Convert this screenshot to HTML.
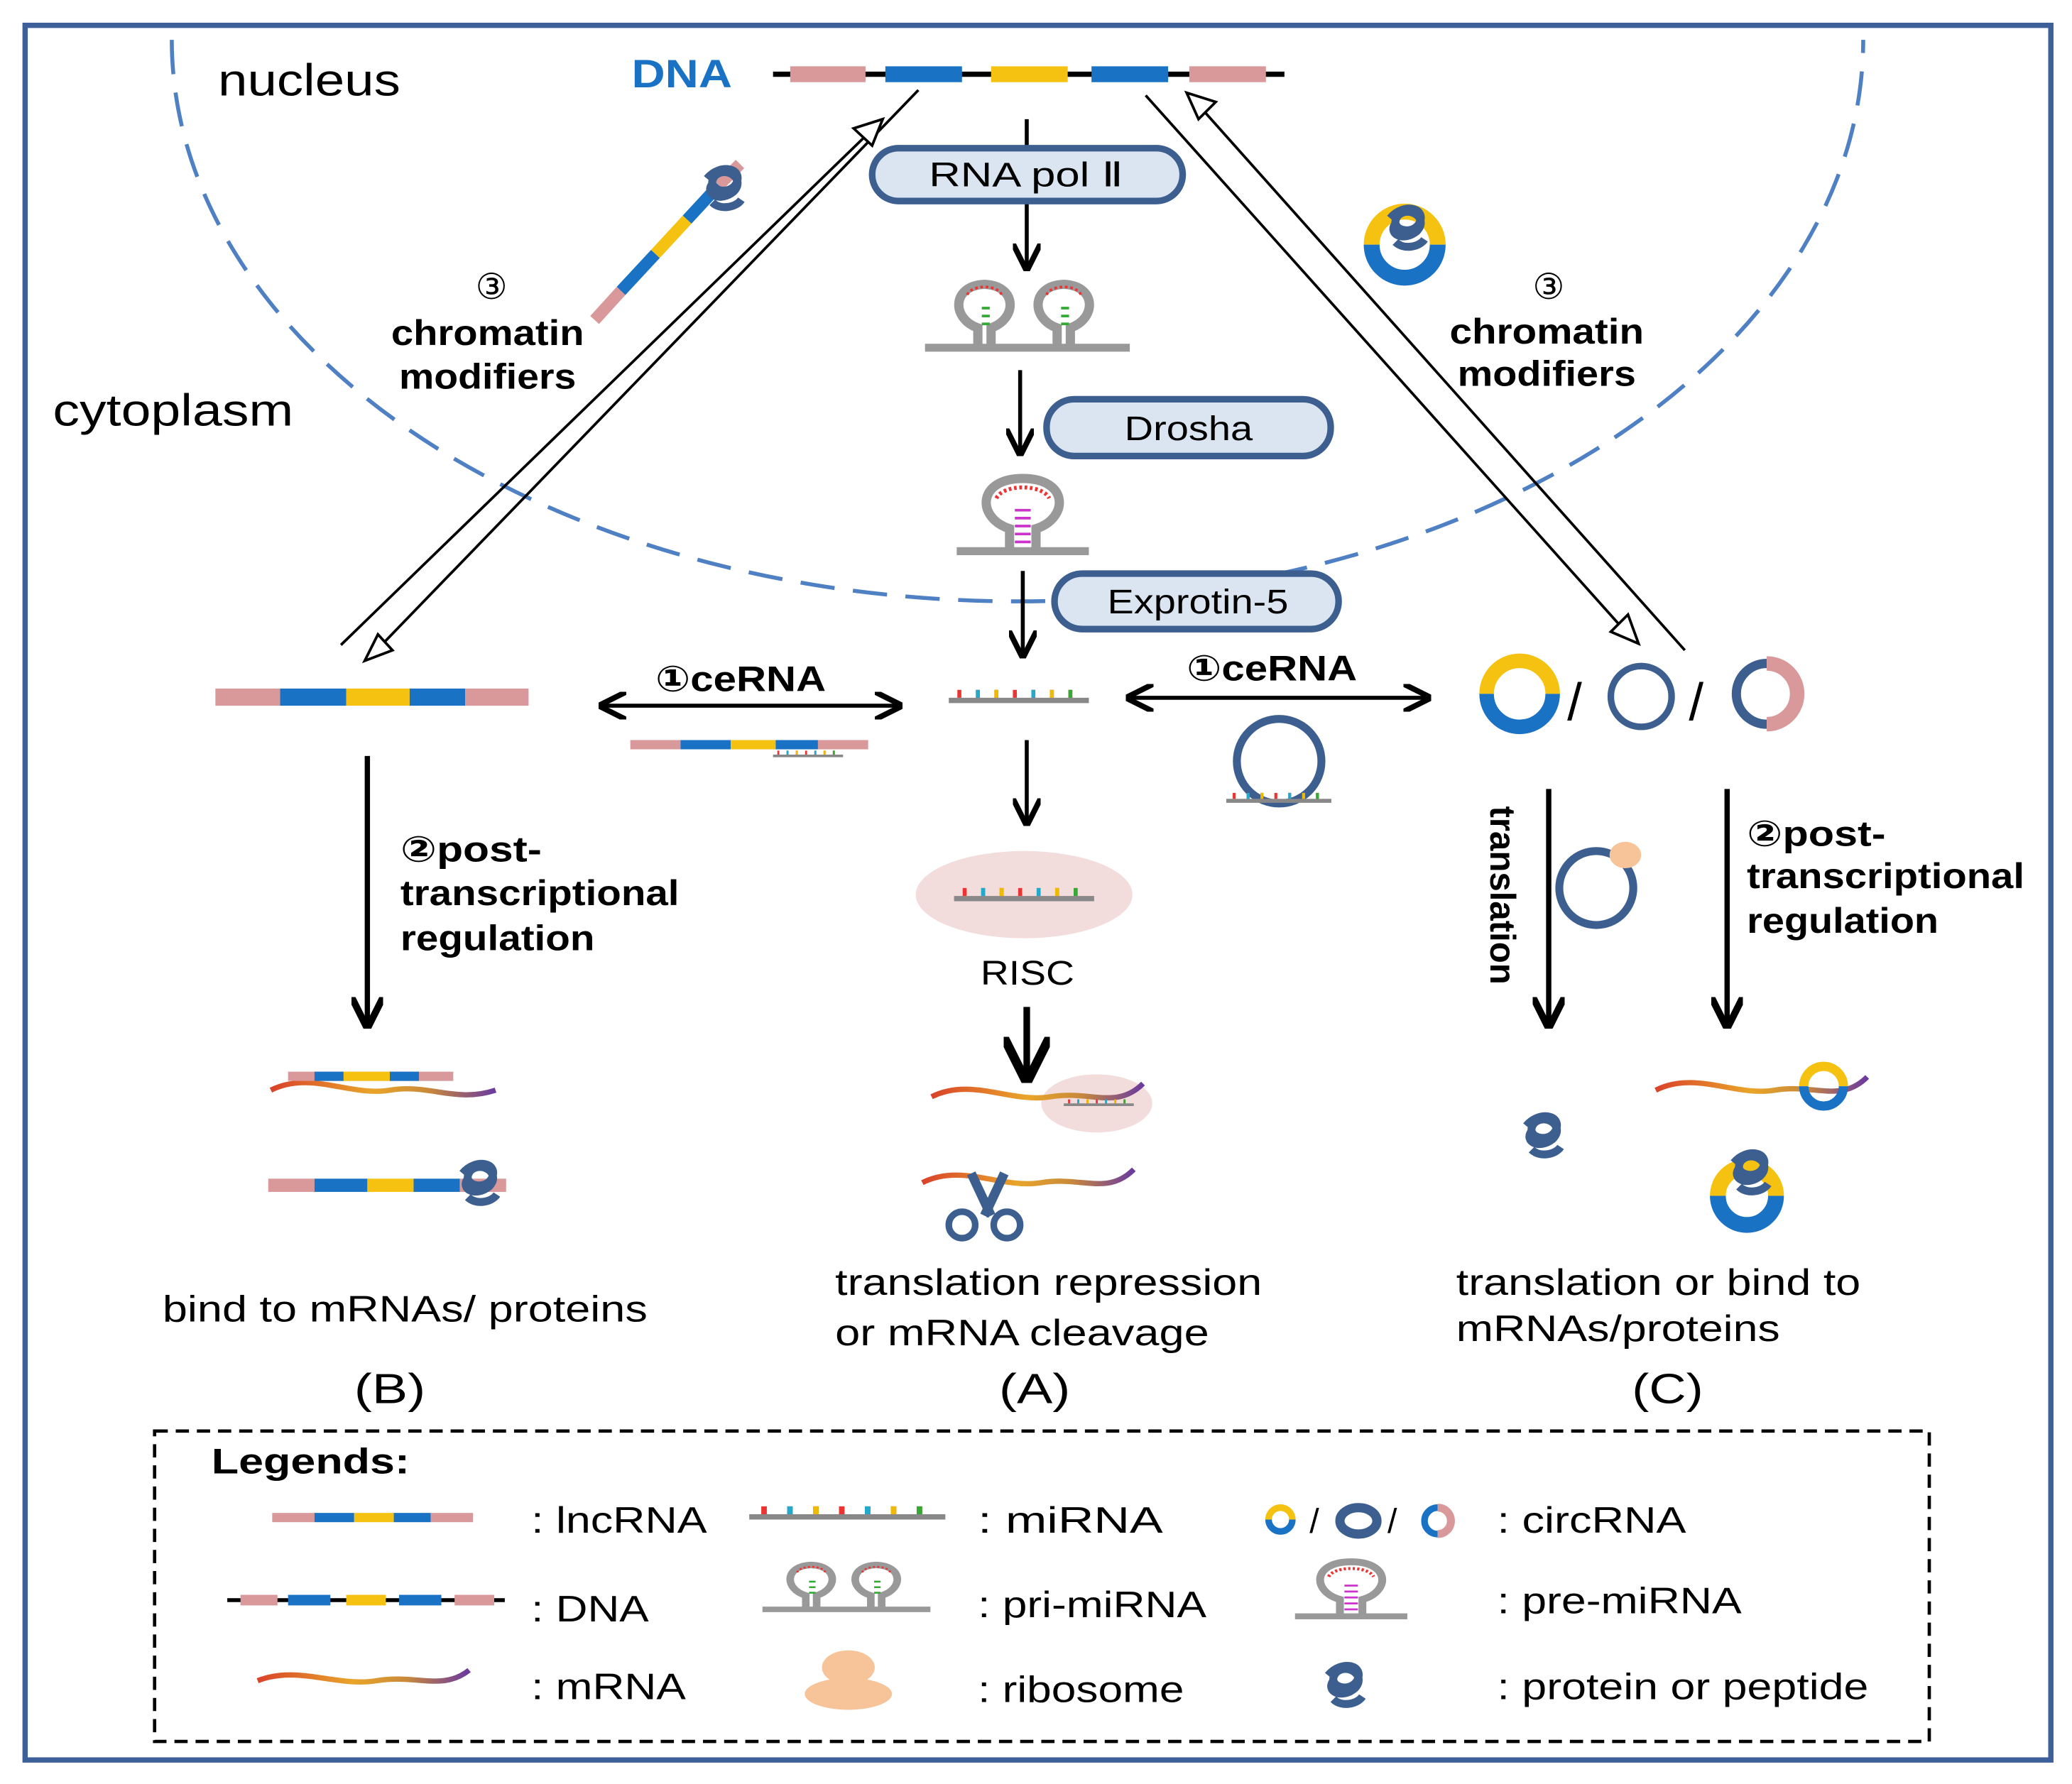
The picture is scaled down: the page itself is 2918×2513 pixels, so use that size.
<!DOCTYPE html>
<html><head><meta charset="utf-8"><style>
html,body{margin:0;padding:0;background:#fff}
svg{display:block}
text{font-family:"Liberation Sans","DejaVu Sans",sans-serif}
</style></head><body>
<svg width="2918" height="2513" viewBox="0 0 1568 1350" xmlns="http://www.w3.org/2000/svg">
<defs>
<linearGradient id="mr" x1="0" x2="1"><stop offset="0" stop-color="#d9432a"/><stop offset="0.45" stop-color="#e9a52a"/><stop offset="0.7" stop-color="#c98a3a"/><stop offset="1" stop-color="#6a3aa0"/></linearGradient>
<marker id="ah" viewBox="0 0 10 10" refX="9" refY="5" markerWidth="7" markerHeight="7" orient="auto-start-reverse"><path d="M0,0 L10,5 L0,10" fill="none" stroke="#000" stroke-width="2"/></marker>
<marker id="ahb" viewBox="0 0 10 10" refX="9" refY="5" markerWidth="6" markerHeight="6" orient="auto-start-reverse"><path d="M0,0 L10,5 L0,10" fill="none" stroke="#000" stroke-width="2.2"/></marker>
<g id="pri"><path d="M0,50 H155" stroke="#999" stroke-width="6"/>
<path d="M40,50 V35 C20,28 20,3 45,2 C70,3 70,28 50,35 V50" fill="none" stroke="#999" stroke-width="7"/>
<path d="M100,50 V35 C80,28 80,3 105,2 C130,3 130,28 110,35 V50" fill="none" stroke="#999" stroke-width="7"/>
<path d="M32,10 C35,2 55,2 58,10 M92,10 C95,2 115,2 118,10" fill="none" stroke="#e33" stroke-width="2" stroke-dasharray="2 2"/>
<path d="M43,20 h6 M43,26 h6 M43,32 h6 M103,20 h6 M103,26 h6 M103,32 h6" stroke="#3a3" stroke-width="2"/></g>
<g id="pre"><path d="M0,55 H100" stroke="#999" stroke-width="6"/>
<path d="M40,55 V38 C15,30 15,0 50,0 C85,0 85,30 60,38 V55" fill="none" stroke="#999" stroke-width="7"/>
<path d="M30,15 C35,4 65,4 70,15" fill="none" stroke="#e33" stroke-width="3" stroke-dasharray="2 2"/>
<path d="M44,24 h12 M44,30 h12 M44,36 h12 M44,42 h12 M44,48 h12" stroke="#c3c" stroke-width="2"/></g>
<g id="mi"><path d="M0,8 H106" stroke="#888" stroke-width="4"/>
<path d="M8,0v6 M22,0v6 M36,0v6 M50,0v6 M64,0v6 M78,0v6 M92,0v6" stroke-width="3" stroke="#e33"/>
<path d="M22,0v6 M64,0v6" stroke="#2ac" stroke-width="3"/><path d="M36,0v6 M78,0v6" stroke="#eb0" stroke-width="3"/><path d="M92,0v6" stroke="#3a3" stroke-width="3"/></g>
<g id="prot"><path d="M0,0 c10,-12 28,-8 22,4 c-6,10 -24,4 -16,-6 c8,-8 24,2 14,12 c-10,8 -22,2 -16,-6 M4,18 c6,6 18,4 22,-2" fill="none" stroke="#3d5f8f" stroke-width="6"/></g>
</defs>
<rect x="19" y="19" width="1533" height="1313" fill="none" stroke="#3d5f9a" stroke-width="4"/>
<path d="M130,30 A640,425 0 0 0 1410,30" fill="none" stroke="#4f80c4" stroke-width="3" stroke-dasharray="26 14"/>
<text x="165" y="72" font-size="34" textLength="138" lengthAdjust="spacingAndGlyphs">nucleus</text>
<text x="40" y="322" font-size="34" textLength="182" lengthAdjust="spacingAndGlyphs">cytoplasm</text>
<text x="478" y="66" font-size="30" font-weight="bold" fill="#1a72c4" textLength="76" lengthAdjust="spacingAndGlyphs">DNA</text>
<path d="M585,56 H972" stroke="#000" stroke-width="4"/>
<rect x="598" y="50" width="57" height="12" fill="#d9989a"/><rect x="670" y="50" width="58" height="12" fill="#1a72c4"/><rect x="750" y="50" width="58" height="12" fill="#f5c211"/><rect x="826" y="50" width="58" height="12" fill="#1a72c4"/><rect x="900" y="50" width="58" height="12" fill="#d9989a"/>
<g stroke="#000" stroke-width="3" marker-end="url(#ah)">
<path d="M777,90 V203"/><path d="M772,280 V343"/><path d="M774,432 V496"/><path d="M777,560 V623"/></g>
<path d="M777,762 V816" stroke="#000" stroke-width="5" marker-end="url(#ah)"/>
<g fill="#dbe5f1" stroke="#3d5f8f" stroke-width="5">
<rect x="660" y="112" width="235" height="40" rx="20"/><rect x="792" y="302" width="215" height="43" rx="21"/><rect x="798" y="434" width="215" height="42" rx="21"/></g>
<g font-size="26" lengthAdjust="spacingAndGlyphs"><text x="703" y="141" textLength="147" lengthAdjust="spacingAndGlyphs">RNA pol Ⅱ</text><text x="851" y="333" textLength="97" lengthAdjust="spacingAndGlyphs">Drosha</text><text x="838" y="464" textLength="137" lengthAdjust="spacingAndGlyphs">Exprotin-5</text></g>
<use href="#pri" x="700" y="213"/>
<use href="#pre" x="724" y="362"/>
<g stroke="#000" stroke-width="2" fill="none">
<path d="M258,488 L662,96"/><path d="M695,68 L283,494"/>
<path d="M867,72 L1232,480"/><path d="M1275,492 L904,76"/></g>
<g fill="#fff" stroke="#000" stroke-width="2">
<path d="M668,90 L646,97 L660,110 Z"/><path d="M276,500 L286,480 L297,492 Z"/>
<path d="M1240,487 L1219,478 L1232,465 Z"/><path d="M898,70 L920,77 L907,90 Z"/></g>
<g stroke-width="9"><path d="M450,242 L470,220" stroke="#d9989a"/><path d="M470,220 L496,192" stroke="#1a72c4"/><path d="M496,192 L520,166" stroke="#f5c211"/><path d="M520,166 L544,140" stroke="#1a72c4"/><path d="M544,140 L560,124" stroke="#d9989a"/></g>
<use href="#prot" x="535" y="135"/>
<path d="M1063,185 m-25,0 a25,25 0 0 1 50,0" fill="none" stroke="#f5c211" stroke-width="12"/>
<path d="M1063,185 m-25,0 a25,25 0 0 0 50,0" fill="none" stroke="#1a72c4" stroke-width="12"/>
<use href="#prot" x="1052" y="165"/>
<g font-size="27" font-weight="bold">
<text x="372" y="226" font-weight="normal" text-anchor="middle">③</text><text x="296" y="261" textLength="146" lengthAdjust="spacingAndGlyphs">chromatin</text><text x="302" y="294" textLength="134" lengthAdjust="spacingAndGlyphs">modifiers</text>
<text x="1172" y="226" font-weight="normal" text-anchor="middle">③</text><text x="1097" y="260" textLength="147" lengthAdjust="spacingAndGlyphs">chromatin</text><text x="1103" y="292" textLength="135" lengthAdjust="spacingAndGlyphs">modifiers</text>
<text x="496" y="523" textLength="129" lengthAdjust="spacingAndGlyphs">①ceRNA</text><text x="898" y="515" textLength="129" lengthAdjust="spacingAndGlyphs">①ceRNA</text></g>
<rect x="163" y="521" width="49" height="13" fill="#d9989a"/><rect x="212" y="521" width="50" height="13" fill="#1a72c4"/><rect x="262" y="521" width="48" height="13" fill="#f5c211"/><rect x="310" y="521" width="42" height="13" fill="#1a72c4"/><rect x="352" y="521" width="48" height="13" fill="#d9989a"/>
<g stroke="#000" stroke-width="3" marker-end="url(#ah)" marker-start="url(#ah)"><path d="M455,534 H681"/><path d="M854,528 H1081"/></g>
<rect x="477" y="560" width="38" height="7" fill="#d9989a"/><rect x="515" y="560" width="38" height="7" fill="#1a72c4"/><rect x="553" y="560" width="34" height="7" fill="#f5c211"/><rect x="587" y="560" width="32" height="7" fill="#1a72c4"/><rect x="619" y="560" width="38" height="7" fill="#d9989a"/>
<g transform="translate(585,568) scale(0.5)"><use href="#mi"/></g>
<use href="#mi" x="718" y="522"/>
<circle cx="968" cy="576" r="32" fill="none" stroke="#3d5f8f" stroke-width="6"/>
<g transform="translate(928,600) scale(0.75)"><use href="#mi"/></g>
<path d="M1125,525 a25,25 0 0 1 50,0" fill="none" stroke="#f5c211" stroke-width="11"/><path d="M1125,525 a25,25 0 0 0 50,0" fill="none" stroke="#1a72c4" stroke-width="11"/>
<text x="1186" y="545" font-size="40">/</text>
<circle cx="1242" cy="527" r="23" fill="none" stroke="#3d5f8f" stroke-width="5"/>
<text x="1278" y="545" font-size="40">/</text>
<path d="M1337,502 a23,23 0 0 0 0,46" fill="none" stroke="#3d5f8f" stroke-width="7"/><path d="M1337,502 a23,23 0 0 1 0,46" fill="none" stroke="#d9989a" stroke-width="11"/>
<ellipse cx="775" cy="677" rx="82" ry="33" fill="#f3dcdc"/>
<use href="#mi" x="722" y="672"/>
<text x="742" y="745" font-size="26" textLength="71" lengthAdjust="spacingAndGlyphs">RISC</text>
<g stroke="#000" stroke-width="4" marker-end="url(#ahb)"><path d="M278,572 V776"/><path d="M1172,597 V776"/><path d="M1307,597 V776"/></g>
<g font-size="27" font-weight="bold">
<text x="303" y="652" textLength="107" lengthAdjust="spacingAndGlyphs">②post-</text><text x="303" y="685" textLength="211" lengthAdjust="spacingAndGlyphs">transcriptional</text><text x="303" y="719" textLength="147" lengthAdjust="spacingAndGlyphs">regulation</text>
<text x="1322" y="640" textLength="105" lengthAdjust="spacingAndGlyphs">②post-</text><text x="1322" y="672" textLength="210" lengthAdjust="spacingAndGlyphs">transcriptional</text><text x="1322" y="706" textLength="145" lengthAdjust="spacingAndGlyphs">regulation</text>
<text transform="translate(1128,610) rotate(90)" textLength="135" lengthAdjust="spacingAndGlyphs">translation</text></g>
<circle cx="1208" cy="672" r="28" fill="none" stroke="#3d5f8f" stroke-width="6"/>
<ellipse cx="1230" cy="647" rx="12" ry="10" fill="#f7c49a"/>
<path d="M205,825 c30,-15 60,5 90,0 c30,-5 50,10 80,0" fill="none" stroke="url(#mr)" stroke-width="4"/>
<rect x="218" y="811" width="125" height="7" fill="#d9989a"/><rect x="238" y="811" width="22" height="7" fill="#1a72c4"/><rect x="260" y="811" width="35" height="7" fill="#f5c211"/><rect x="295" y="811" width="22" height="7" fill="#1a72c4"/>
<rect x="203" y="892" width="35" height="10" fill="#d9989a"/><rect x="238" y="892" width="40" height="10" fill="#1a72c4"/><rect x="278" y="892" width="35" height="10" fill="#f5c211"/><rect x="313" y="892" width="35" height="10" fill="#1a72c4"/><rect x="348" y="892" width="35" height="10" fill="#d9989a"/>
<use href="#prot" x="350" y="888"/>
<ellipse cx="830" cy="835" rx="42" ry="22" fill="#f3dcdc"/>
<path d="M705,830 c30,-15 60,5 90,0 c30,-5 50,10 70,-10" fill="none" stroke="url(#mr)" stroke-width="4"/>
<g transform="translate(805,832) scale(0.5)"><use href="#mi"/></g>
<path d="M698,895 c30,-15 60,5 90,0 c30,-5 50,10 70,-10" fill="none" stroke="url(#mr)" stroke-width="4"/>
<path d="M735,888 L750,920 M760,888 L745,920" stroke="#3d5f8f" stroke-width="7"/>
<circle cx="728" cy="927" r="10" fill="none" stroke="#3d5f8f" stroke-width="5"/><circle cx="762" cy="927" r="10" fill="none" stroke="#3d5f8f" stroke-width="5"/>
<use href="#prot" x="1155" y="852"/>
<path d="M1253,825 c30,-15 60,5 90,0 c30,-5 50,10 70,-10" fill="none" stroke="url(#mr)" stroke-width="4"/>
<path d="M1365,822 a15,15 0 0 1 30,0" fill="none" stroke="#f5c211" stroke-width="7"/><path d="M1365,822 a15,15 0 0 0 30,0" fill="none" stroke="#1a72c4" stroke-width="7"/>
<path d="M1300,905 a22,22 0 0 1 44,0" fill="none" stroke="#f5c211" stroke-width="12"/><path d="M1300,905 a22,22 0 0 0 44,0" fill="none" stroke="#1a72c4" stroke-width="12"/>
<use href="#prot" x="1312" y="880"/>
<g font-size="28"><text x="123" y="1000" textLength="367" lengthAdjust="spacingAndGlyphs">bind to mRNAs/ proteins</text>
<text x="632" y="980" textLength="323" lengthAdjust="spacingAndGlyphs">translation repression</text><text x="632" y="1018" textLength="283" lengthAdjust="spacingAndGlyphs">or mRNA cleavage</text>
<text x="1102" y="980" textLength="306" lengthAdjust="spacingAndGlyphs">translation or bind to</text><text x="1102" y="1015" textLength="245" lengthAdjust="spacingAndGlyphs">mRNAs/proteins</text></g>
<g font-size="32"><text x="268" y="1062" textLength="54" lengthAdjust="spacingAndGlyphs">(B)</text><text x="756" y="1062" textLength="54" lengthAdjust="spacingAndGlyphs">(A)</text><text x="1235" y="1062" textLength="54" lengthAdjust="spacingAndGlyphs">(C)</text></g>
<rect x="117" y="1083" width="1343" height="235" fill="none" stroke="#000" stroke-width="2.5" stroke-dasharray="10 6"/>
<text x="160" y="1115" font-size="27" font-weight="bold" textLength="150" lengthAdjust="spacingAndGlyphs">Legends:</text>
<rect x="206" y="1145" width="32" height="7" fill="#d9989a"/><rect x="238" y="1145" width="30" height="7" fill="#1a72c4"/><rect x="268" y="1145" width="30" height="7" fill="#f5c211"/><rect x="298" y="1145" width="28" height="7" fill="#1a72c4"/><rect x="326" y="1145" width="32" height="7" fill="#d9989a"/>
<path d="M172,1211 H382" stroke="#000" stroke-width="3"/>
<rect x="182" y="1207" width="28" height="8" fill="#d9989a"/><rect x="218" y="1207" width="32" height="8" fill="#1a72c4"/><rect x="262" y="1207" width="30" height="8" fill="#f5c211"/><rect x="302" y="1207" width="32" height="8" fill="#1a72c4"/><rect x="344" y="1207" width="30" height="8" fill="#d9989a"/>
<path d="M195,1272 c30,-12 60,5 90,0 c30,-5 50,8 70,-8" fill="none" stroke="url(#mr)" stroke-width="4"/>
<g transform="translate(567,1140) scale(1.4,1)"><use href="#mi"/></g>
<g transform="translate(577,1183) scale(0.82,0.7)"><use href="#pri"/></g>
<ellipse cx="642" cy="1282" rx="33" ry="12" fill="#f7c49a"/><ellipse cx="642" cy="1262" rx="20" ry="13" fill="#f7c49a"/>
<path d="M960,1150 a9,9 0 0 1 18,0" fill="none" stroke="#f5c211" stroke-width="5"/><path d="M960,1150 a9,9 0 0 0 18,0" fill="none" stroke="#1a72c4" stroke-width="5"/>
<text x="991" y="1160" font-size="26">/</text>
<ellipse cx="1028" cy="1151" rx="14" ry="10" fill="none" stroke="#3d5f8f" stroke-width="7"/>
<text x="1050" y="1160" font-size="26">/</text>
<path d="M1088,1141 a10,10 0 0 0 0,20" fill="none" stroke="#1a72c4" stroke-width="5"/><path d="M1088,1141 a10,10 0 0 1 0,20" fill="none" stroke="#d9989a" stroke-width="6"/>
<g transform="translate(980,1182) scale(0.85,0.75)"><use href="#pre"/></g>
<use href="#prot" x="1005" y="1268"/>
<g font-size="28"><text x="402" y="1160" textLength="133" lengthAdjust="spacingAndGlyphs">: lncRNA</text><text x="740" y="1160" textLength="140" lengthAdjust="spacingAndGlyphs">: miRNA</text><text x="1133" y="1160" textLength="143" lengthAdjust="spacingAndGlyphs">: circRNA</text>
<text x="402" y="1227" textLength="89" lengthAdjust="spacingAndGlyphs">: DNA</text><text x="740" y="1224" textLength="173" lengthAdjust="spacingAndGlyphs">: pri-miRNA</text><text x="1133" y="1221" textLength="185" lengthAdjust="spacingAndGlyphs">: pre-miRNA</text>
<text x="402" y="1286" textLength="117" lengthAdjust="spacingAndGlyphs">: mRNA</text><text x="740" y="1288" textLength="156" lengthAdjust="spacingAndGlyphs">: ribosome</text><text x="1133" y="1286" textLength="281" lengthAdjust="spacingAndGlyphs">: protein or peptide</text></g>
</svg>
</body></html>
